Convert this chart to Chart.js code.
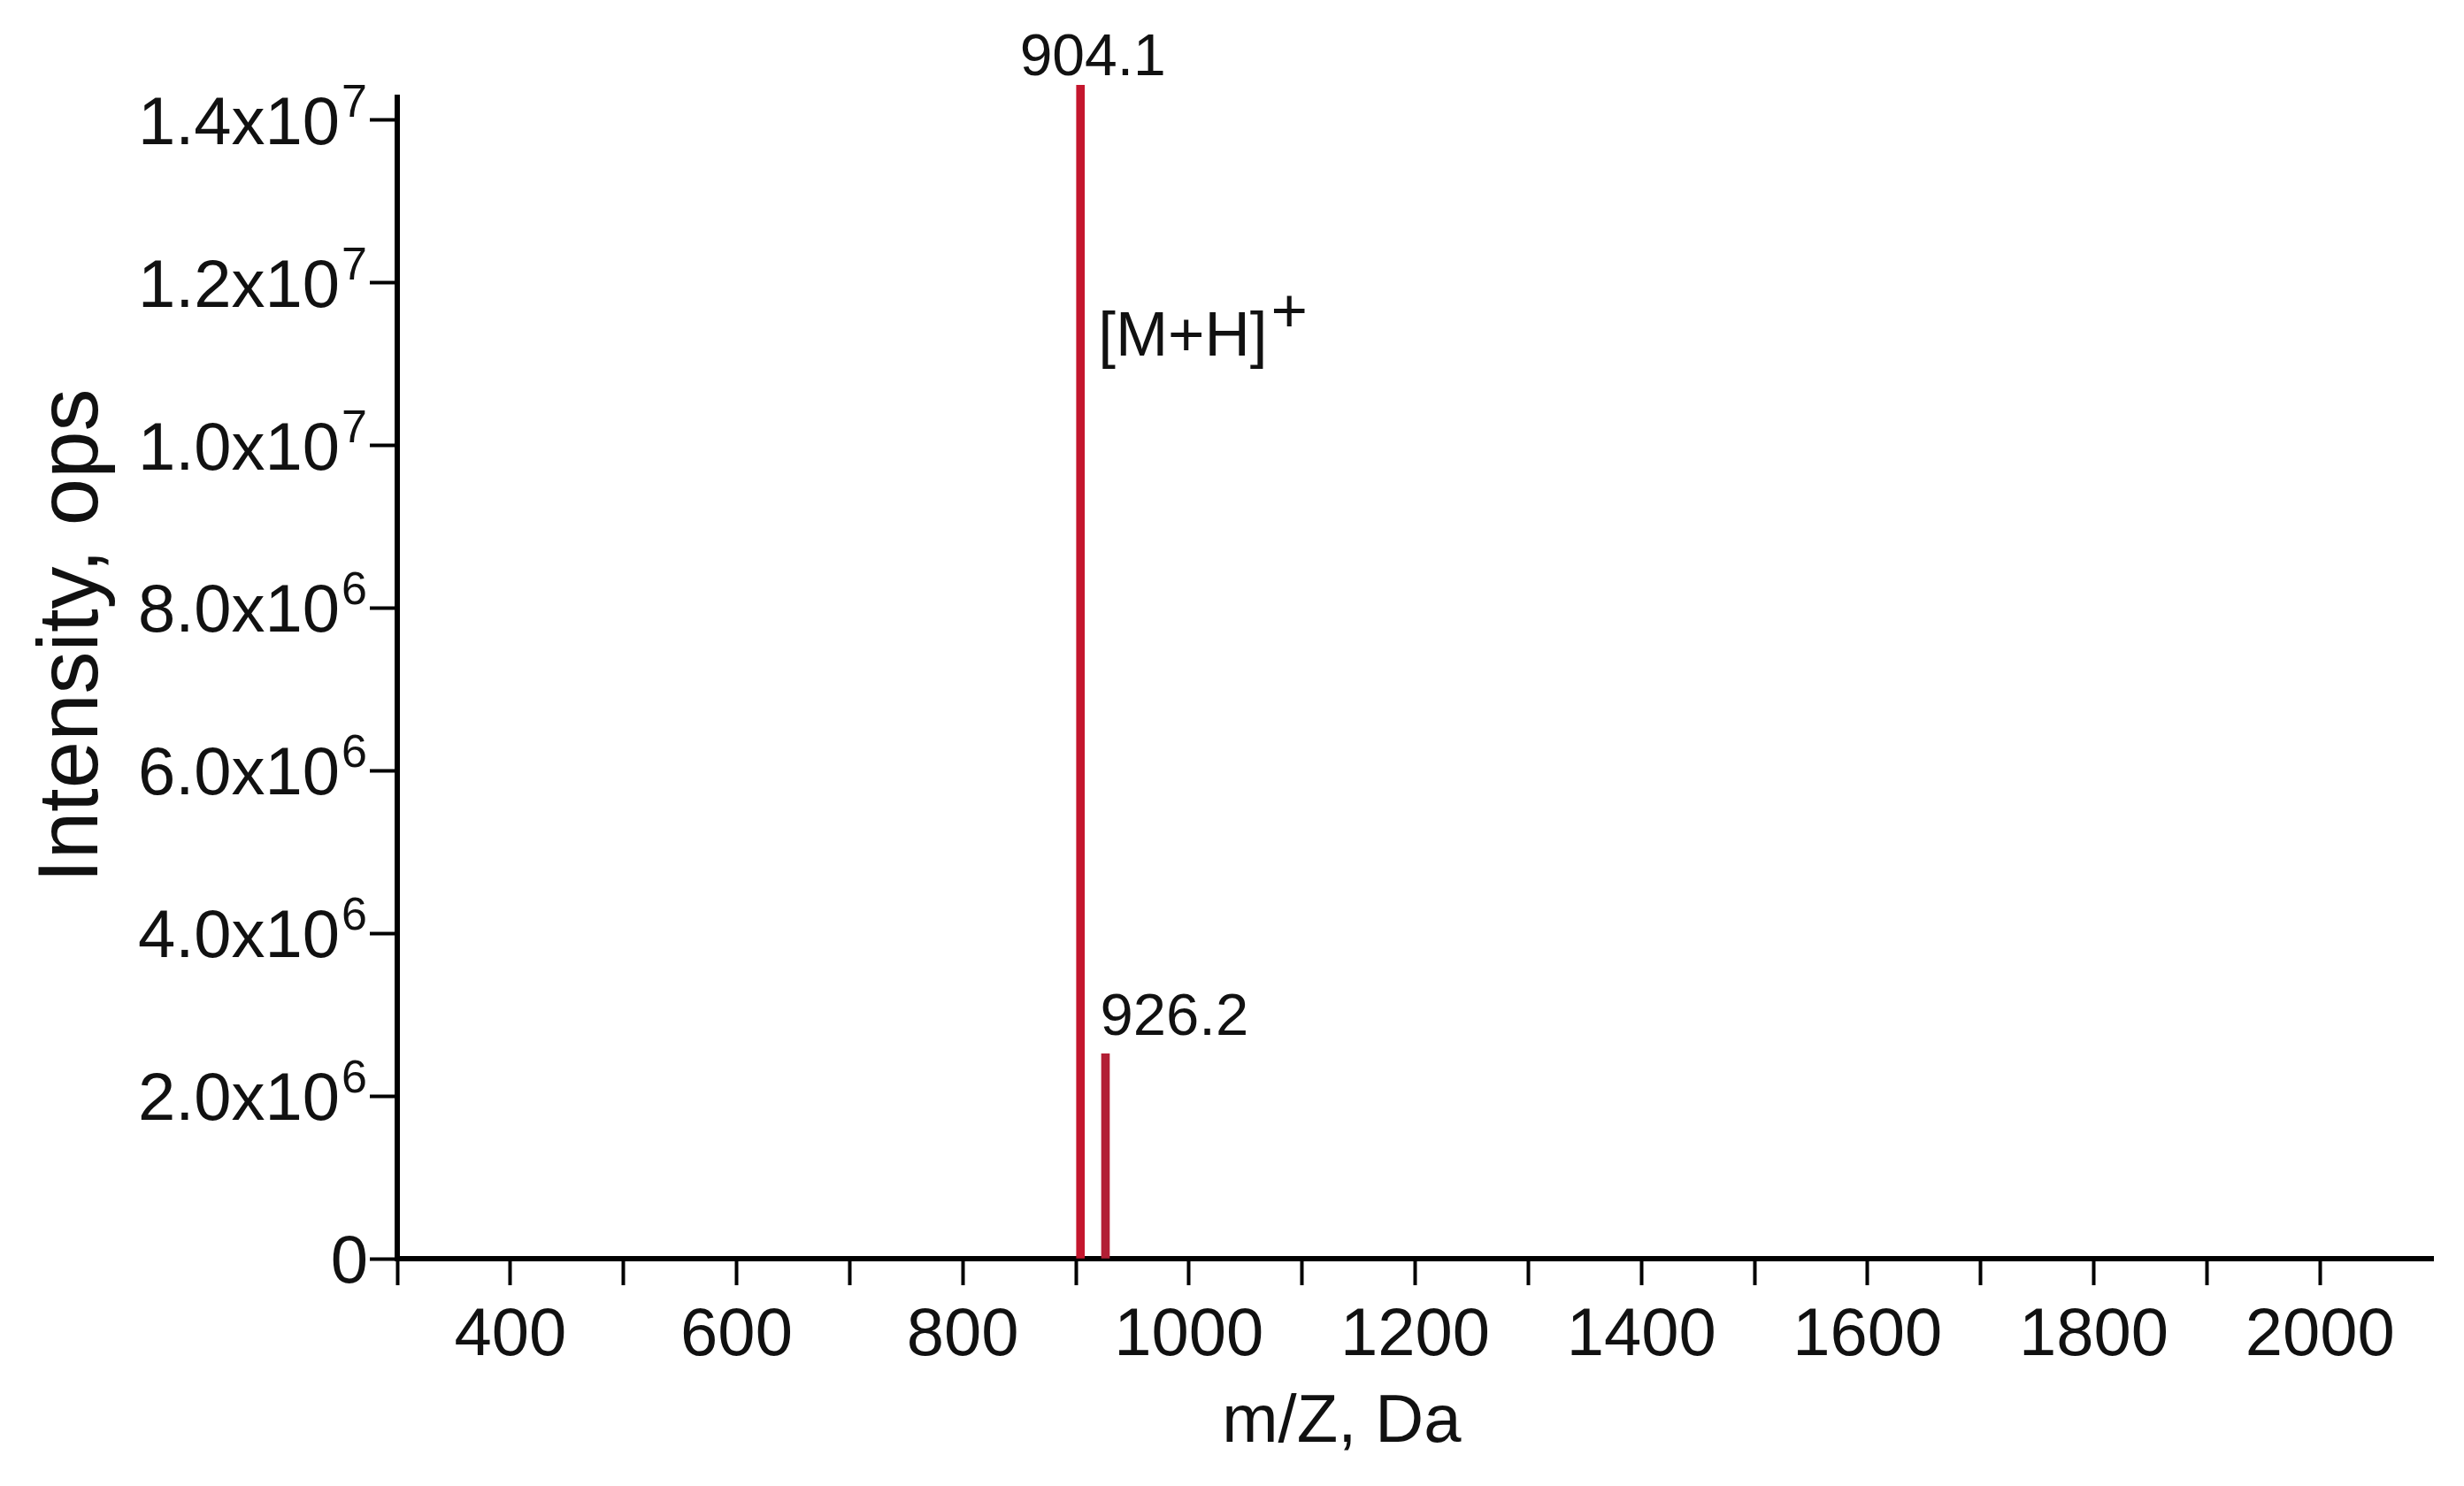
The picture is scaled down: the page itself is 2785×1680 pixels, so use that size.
<!DOCTYPE html>
<html>
<head>
<meta charset="utf-8">
<script src="https://cdn.jsdelivr.net/npm/chart.js@4.4.1/dist/chart.umd.min.js"></script>
<style>
  html, body { margin: 0; padding: 0; background: #fff; }
  #wrap { width: 2785px; height: 1680px; }
</style>
</head>
<body>
<div id="wrap"><canvas id="myChart" width="2785" height="1680"></canvas></div>
<script>
// datos del espectro (m/z, intensidad)
const picosMz = [904.1, 926.2];
const picosIntensidad = [14430000, 2520000];
const picosEtiqueta = ['904.1', '926.2'];
const picosColor = ['#c4162d', '#b21f35'];

// ejes
const xTicks = [300, 400, 500, 600, 700, 800, 900, 1000, 1100, 1200, 1300, 1400, 1500, 1600, 1700, 1800, 1900, 2000];
const xTickLabels = ['', '400', '', '600', '', '800', '', '1000', '', '1200', '', '1400', '', '1600', '', '1800', '', '2000'];
const yTicks = [0, 2000000, 4000000, 6000000, 8000000, 10000000, 12000000, 14000000];
const yTickMant = ['0', '2.0x10', '4.0x10', '6.0x10', '8.0x10', '1.0x10', '1.2x10', '1.4x10'];
const yTickExp = ['', '6', '6', '6', '6', '7', '7', '7'];

const FUENTE = '"Liberation Sans", Arial, Helvetica, sans-serif';

// textos que Chart.js no sabe pintar (superindices, titulos, etiquetas de picos)
const textosPlugin = {
    id: 'textos',
    afterDraw(chart) {
        const ctx = chart.ctx;
        const xs = chart.scales.x;
        const ys = chart.scales.y;
        const area = chart.chartArea;
        ctx.save();
        ctx.fillStyle = '#111';
        ctx.textBaseline = 'alphabetic';

        // etiquetas eje Y con exponente
        for (let i = 0; i < yTicks.length; i++) {
            let y = ys.getPixelForValue(yTicks[i]);
            let right = area.left - 34;
            ctx.textAlign = 'right';
            if (yTickExp[i] !== '') {
                ctx.font = '52px ' + FUENTE;
                ctx.fillText(yTickExp[i], right, y - 4);
                let w = ctx.measureText(yTickExp[i]).width;
                ctx.font = '76px ' + FUENTE;
                ctx.fillText(yTickMant[i], right - w - 2, y + 27);
            } else {
                ctx.font = '76px ' + FUENTE;
                ctx.fillText(yTickMant[i], right + 1, y + 27);
            }
        }

        // titulo eje Y
        ctx.save();
        ctx.translate(110, ys.getPixelForValue(7660000));
        ctx.rotate(-Math.PI / 2);
        ctx.textAlign = 'center';
        ctx.font = '96px ' + FUENTE;
        ctx.fillText('Intensity, ops', 0, 0);
        ctx.restore();

        // titulo eje X
        ctx.textAlign = 'center';
        ctx.font = '76px ' + FUENTE;
        ctx.fillText('m/Z, Da', xs.getPixelForValue(1135), 1630);

        // etiquetas de los picos
        let x1 = xs.getPixelForValue(picosMz[0]);
        let top1 = ys.getPixelForValue(picosIntensidad[0]);
        ctx.font = '66px ' + FUENTE;
        ctx.textAlign = 'center';
        ctx.fillText(picosEtiqueta[0], x1 + 14, top1 - 11);

        ctx.textAlign = 'left';
        ctx.font = '71px ' + FUENTE;
        let yIon = ys.getPixelForValue(11100000);
        ctx.fillText('[M+H]', x1 + 20, yIon);
        let wIon = ctx.measureText('[M+H]').width;
        ctx.fillText('+', x1 + 20 + wIon + 4, yIon - 27);

        let x2 = xs.getPixelForValue(picosMz[1]);
        let top2 = ys.getPixelForValue(picosIntensidad[1]);
        ctx.font = '67px ' + FUENTE;
        ctx.textAlign = 'left';
        ctx.fillText(picosEtiqueta[1], x2 - 6, top2 - 21);

        ctx.restore();
    }
};

const data = {
    datasets: [{
        label: 'Intensity',
        data: picosMz.map((mz, i) => ({ x: mz, y: picosIntensidad[i] })),
        backgroundColor: picosColor,
        borderWidth: 0,
        barThickness: 9,
        clip: false
    }]
};

const config = {
    type: 'bar',
    data: data,
    options: {
        responsive: false,
        maintainAspectRatio: false,
        devicePixelRatio: 1,
        animation: false,
        layout: {
            padding: { left: 0, right: 35, top: 110, bottom: 0 }
        },
        plugins: {
            legend: { display: false },
            tooltip: { enabled: false },
            title: { display: false }
        },
        scales: {
            x: {
                type: 'linear',
                min: 300,
                max: 2100,
                offset: false,
                afterBuildTicks: (scale) => { scale.ticks = xTicks.map(v => ({ value: v })); },
                afterFit: (scale) => { scale.height = 257; },
                border: { display: true, color: '#000', width: 6 },
                grid: {
                    offset: false,
                    drawOnChartArea: false,
                    drawTicks: true,
                    tickLength: 30,
                    tickWidth: 4,
                    tickColor: '#000',
                    color: '#000'
                },
                ticks: {
                    autoSkip: false,
                    maxRotation: 0,
                    padding: 12,
                    color: '#111',
                    font: { family: FUENTE, size: 76 },
                    callback: function (value, index) {
                        let k = xTicks.indexOf(value);
                        return k >= 0 ? xTickLabels[k] : '';
                    }
                }
            },
            y: {
                type: 'linear',
                min: 0,
                max: 14280000,
                afterBuildTicks: (scale) => { scale.ticks = yTicks.map(v => ({ value: v })); },
                afterFit: (scale) => { scale.width = 449; },
                border: { display: true, color: '#000', width: 6 },
                grid: {
                    drawOnChartArea: false,
                    drawTicks: true,
                    tickLength: 31,
                    tickWidth: 4,
                    tickColor: '#000',
                    color: '#000'
                },
                ticks: {
                    font: { family: FUENTE, size: 76 },
                    callback: () => ''
                }
            }
        }
    },
    plugins: [textosPlugin]
};

const myChart = new Chart(document.getElementById('myChart'), config);
</script>
</body>
</html>
